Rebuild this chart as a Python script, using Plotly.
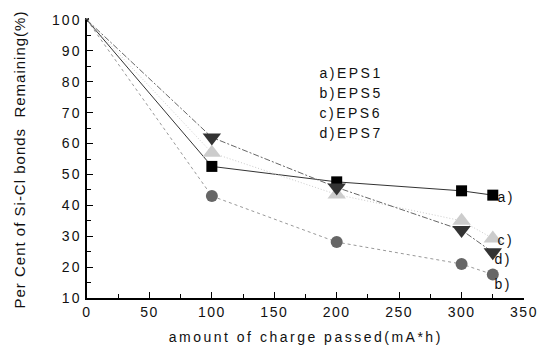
import plotly.graph_objects as go

charge = [0, 100, 200, 300, 325]
eps1 = [100, 52.6, 47.6, 44.7, 43.3]
eps5 = [100, 43.0, 28.1, 21.0, 17.6]
eps6 = [100, 57.0, 43.5, 35.0, 29.3]
eps7 = [100, 62.0, 45.8, 32.0, 24.8]
end_labels = ["a)", "b)", "c)", "d)"]
legend_lines = ["a)EPS1", "b)EPS5", "c)EPS6", "d)EPS7"]

FONT = "Liberation Sans, Arial, sans-serif"
TXT = "#111111"

fig = go.Figure()

def add(y, color, mcolor, dash, symbol, size, lw):
    sizes = [4] + [size] * (len(y) - 1)
    fig.add_trace(go.Scatter(
        x=charge, y=y, mode="lines+markers",
        line=dict(color=color, width=lw, dash=dash),
        marker=dict(symbol=symbol, size=sizes, color=mcolor, opacity=1, line=dict(width=0)),
        showlegend=False, cliponaxis=False, hoverinfo="skip"))

add(eps1, "#333333", "#000000", "solid", "square", 11, 1)
add(eps5, "#999999", "#666666", "3px,3px", "circle", 12, 1)
add(eps6, "#cccccc", "#cccccc", "1px,2px", "triangle-up", 16, 1)
add(eps7, "#666666", "#333333", "6px,2px,2px,2px", "triangle-down", 16, 1)

# end labels next to the last points
shifts = [(5, -2), (2, -9), (5, -2), (2, -7)]
for lab, yv, (dx, dy) in zip(end_labels, [eps1[-1], eps5[-1], eps6[-1], eps7[-1]], shifts):
    fig.add_annotation(x=charge[-1], y=yv, text=lab, showarrow=False,
                       xanchor="left", yanchor="middle", xshift=dx, yshift=dy,
                       font=dict(family=FONT, size=14, color=TXT))

# legend text block
for i, line in enumerate(legend_lines):
    fig.add_annotation(x=0.545, y=0.809, xref="paper", yref="paper", text=line,
                       showarrow=False, xanchor="left", yanchor="middle",
                       yshift=-20 * i, font=dict(family=FONT, size=14, color=TXT))

# axis titles
fig.add_annotation(x=0.5, y=0, xref="paper", yref="paper",
                   text="amount of charge passed(mA*h)", showarrow=False,
                   xanchor="center", yanchor="middle", yshift=-39,
                   font=dict(family=FONT, size=14, color=TXT))
fig.add_annotation(x=0, y=0.5, xref="paper", yref="paper",
                   text="Per Cent of Si-Cl bonds&nbsp; Remaining(%)", showarrow=False,
                   textangle=-90, xanchor="center", yanchor="middle", xshift=-68, yshift=-1,
                   font=dict(family=FONT, size=15, color=TXT))

axis_common = dict(showgrid=False, zeroline=False, showline=True, linecolor="black",
                   linewidth=1.5, ticks="inside", ticklen=6, tickwidth=1.2,
                   tickcolor="black", automargin=False,
                   tickfont=dict(family=FONT, size=14, color=TXT))

fig.update_layout(
    width=539, height=347,
    margin=dict(l=87, r=15, t=20, b=49),
    paper_bgcolor="white", plot_bgcolor="white",
    font=dict(family=FONT, size=14, color=TXT),
    hovermode=False,
    xaxis=dict(range=[0, 350], tickvals=[0, 50, 100, 150, 200, 250, 300, 350],
               minor=dict(dtick=25, ticks="inside", ticklen=4, tickcolor="black", tickwidth=1),
               ticklabelstandoff=0, **axis_common),
    yaxis=dict(range=[10, 100], tickvals=[10, 20, 30, 40, 50, 60, 70, 80, 90, 100],
               minor=dict(dtick=5, ticks="inside", ticklen=4, tickcolor="black", tickwidth=1),
               ticklabelstandoff=1, **axis_common),
)

post = """
document.documentElement.style.margin = '0';
document.body.style.margin = '0';
document.body.style.padding = '0';
document.body.style.overflow = 'hidden';
var gd = document.getElementsByClassName('plotly-graph-div')[0];
function spacing(){
  gd.querySelectorAll('text').forEach(function(t){
    var s = t.textContent;
    if (t.closest('.xtick')) { t.style.letterSpacing = '1.5px'; }
    else if (t.closest('.ytick')) { t.style.letterSpacing = '2px'; }
    else if (s.indexOf('Per Cent') === 0) { t.style.letterSpacing = '1px'; }
    else { t.style.letterSpacing = '2.5px'; }
  });
}
spacing();
gd.on('plotly_afterplot', spacing);
"""

fig.write_html("out.html", post_script=post, config={"displayModeBar": False})
